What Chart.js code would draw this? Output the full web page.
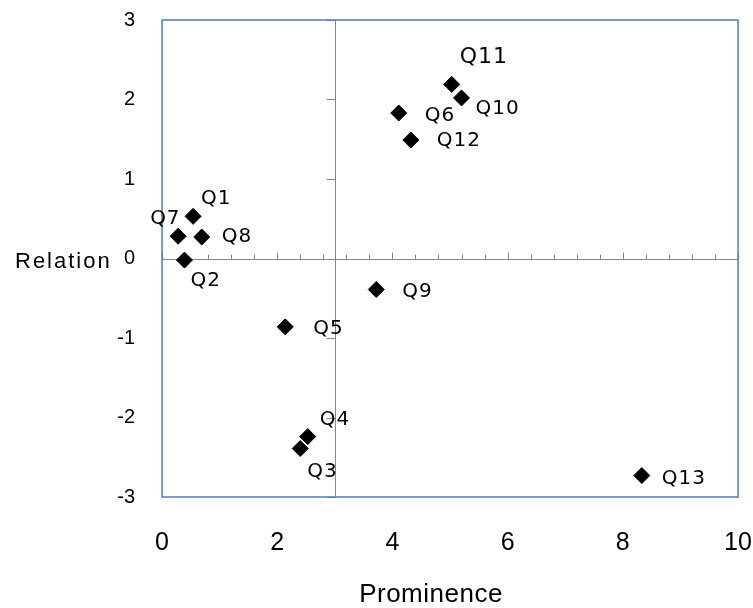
<!DOCTYPE html>
<html>
<head>
<meta charset="utf-8">
<script src="https://cdn.jsdelivr.net/npm/chart.js@4/dist/chart.umd.min.js"></script>
<style>
  html, body { margin: 0; padding: 0; background: #ffffff; }
  #wrap { width: 753px; height: 608px; }
</style>
</head>
<body>
<div id="wrap"><canvas id="c" width="753" height="608"></canvas></div>
<script>
// ---- data ----
const questionLabels = ['Q1','Q2','Q3','Q4','Q5','Q6','Q7','Q8','Q9','Q10','Q11','Q12','Q13'];
const prominence     = [0.54, 0.39, 2.40, 2.53, 2.14, 4.11, 0.28, 0.69, 3.72, 5.20, 5.03, 4.32, 8.33];
const relation       = [0.53, -0.02, -2.39, -2.24, -0.86, 1.83, 0.28, 0.27, -0.39, 2.02, 2.19, 1.49, -2.73];
const xTickValues    = [0, 2, 4, 6, 8, 10];
const yTickValues    = [-3, -2, -1, 0, 1, 2, 3];
const xAxisTitle = 'Prominence';
const yAxisTitle = 'Relation';
const axisCrossX = 3;   // vertical axis crosses at Prominence = 3
const axisCrossY = 0;   // horizontal axis crosses at Relation = 0
const minorStepX = 0.4;

// ---- styles (label offsets in px relative to each marker) ----
const labelDx   = [8, 6, 7, 12, 28, 26, -28, 20, 26, 14, 8, 26, 20];
const labelDy   = [-18, 21, 23, -17, 2, 3, -17, 0, 2, 11, -27, 1, 3];
const labelSize = [20, 20, 20, 20, 20, 20, 20, 20, 20, 20, 22, 20, 20];

const points = prominence.map((v, i) => ({ x: v, y: relation[i] }));

function zeroPad(s) { s.paddingTop = 0; s.paddingBottom = 0; s.paddingLeft = 0; s.paddingRight = 0; }

const quadPlugin = {
  id: 'quad',
  beforeDatasetsDraw(chart) {
    const { ctx, chartArea: a, scales: { x, y } } = chart;
    ctx.save();
    const y0 = Math.round(y.getPixelForValue(axisCrossY)) + 0.5;
    const x0 = Math.round(x.getPixelForValue(axisCrossX)) + 0.5;
    ctx.strokeStyle = '#868686';
    ctx.lineWidth = 1;
    ctx.beginPath();
    ctx.moveTo(a.left, y0); ctx.lineTo(a.right, y0);
    ctx.moveTo(x0, a.top); ctx.lineTo(x0, a.bottom);
    const n = Math.round((x.max - x.min) / minorStepX);
    for (let i = 0; i <= n; i++) {
      const v = x.min + i * minorStepX;
      const px = Math.round(x.getPixelForValue(v)) + 0.5;
      const len = (i % 5 === 0) ? 7 : 5;
      ctx.moveTo(px, y0); ctx.lineTo(px, y0 - len);
    }
    yTickValues.forEach(v => {
      const py = Math.round(y.getPixelForValue(v)) + 0.5;
      ctx.moveTo(x0, py); ctx.lineTo(x0 - 9, py);
    });
    ctx.stroke();
    ctx.strokeStyle = '#4a7ebb';
    ctx.lineWidth = 1.5;
    ctx.strokeRect(a.left, a.top, a.right - a.left, a.bottom - a.top);
    ctx.restore();
  },
  afterDatasetsDraw(chart) {
    const { ctx } = chart;
    const meta = chart.getDatasetMeta(0);
    ctx.save();
    ctx.fillStyle = '#000000';
    ctx.textAlign = 'left';
    ctx.textBaseline = 'middle';
    meta.data.forEach((el, i) => {
      ctx.font = labelSize[i] + 'px "DejaVu Sans", sans-serif';
      ctx.letterSpacing = '1px';
      ctx.fillText(questionLabels[i], el.x + labelDx[i], el.y + labelDy[i]);
    });
    ctx.restore();
  },
  afterDraw(chart) {
    const { ctx } = chart;
    ctx.save();
    ctx.fillStyle = '#000000';
    ctx.textBaseline = 'middle';
    ctx.font = '22px "Liberation Sans", sans-serif';
    ctx.letterSpacing = '2px';
    ctx.textAlign = 'left';
    ctx.fillText(yAxisTitle, 15, 262);
    ctx.font = '26px "Liberation Sans", sans-serif';
    ctx.letterSpacing = '0.5px';
    ctx.textAlign = 'center';
    ctx.fillText(xAxisTitle, 431, 595);
    ctx.restore();
  }
};

new Chart(document.getElementById('c'), {
  type: 'scatter',
  data: {
    datasets: [{
      label: 'Questions',
      data: points,
      pointStyle: 'rectRot',
      pointRadius: 8,
      pointHoverRadius: 8,
      backgroundColor: '#000000',
      borderColor: '#000000',
      borderWidth: 1
    }]
  },
  options: {
    responsive: false,
    animation: false,
    devicePixelRatio: 1,
    layout: { padding: { top: 20, right: 15, bottom: 0, left: 0 } },
    plugins: { legend: { display: false }, tooltip: { enabled: false } },
    scales: {
      x: {
        type: 'linear',
        min: 0, max: 10,
        afterBuildTicks: s => { s.ticks = xTickValues.map(v => ({ value: v })); },
        afterFit: s => { s.height = 111; zeroPad(s); },
        grid: { display: false, drawTicks: false },
        border: { display: false },
        ticks: {
          padding: 31,
          color: '#000000',
          font: { family: '"Liberation Sans Narrow", "Liberation Sans", sans-serif', size: 25 }
        }
      },
      y: {
        type: 'linear',
        min: -3, max: 3,
        afterBuildTicks: s => { s.ticks = yTickValues.map(v => ({ value: v })); },
        afterFit: s => { s.width = 162; zeroPad(s); },
        grid: { display: false, drawTicks: false },
        border: { display: false },
        ticks: {
          padding: 27,
          color: '#000000',
          font: { family: '"Liberation Sans", sans-serif', size: 20 }
        }
      }
    }
  },
  plugins: [quadPlugin]
});
</script>
</body>
</html>
